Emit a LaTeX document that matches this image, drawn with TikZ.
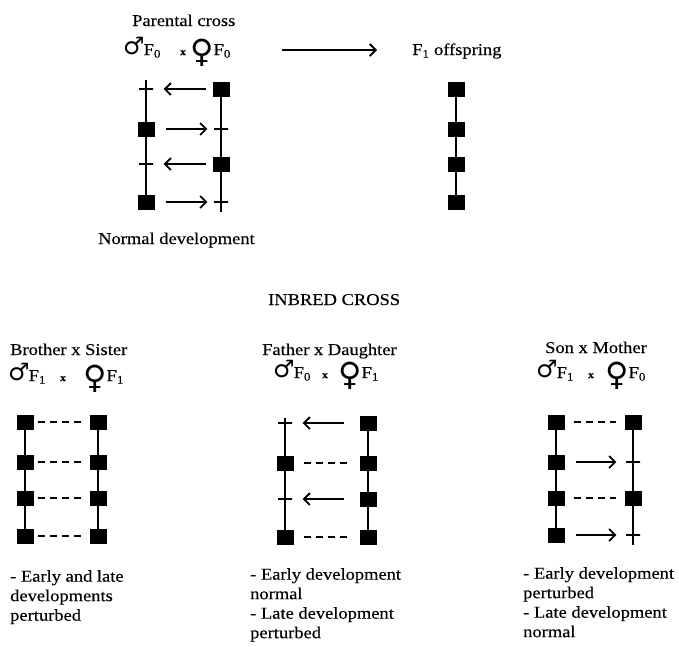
\documentclass[tikz,border=0pt]{standalone}
\usepackage{fontspec}
\setmainfont{Liberation Serif}[FakeStretch=1.12,FakeBold=0.3]
\newfontfamily\symf{DejaVu Sans}
\usetikzlibrary{arrows.meta}
\tikzset{
 sq/.style={rectangle, fill=black, minimum width=17pt, minimum height=15pt, inner sep=0pt},
 tk/.style={rectangle, draw, line width=1.4pt, minimum width=14pt, minimum height=0pt, inner sep=0pt},
 chrom/.style={line width=2.2pt},
 arr/.style={line width=1.6pt, -{Straight Barb[length=6pt,width=12pt,line width=1.8pt]}},
 dsh/.style={line width=1.6pt, dash pattern=on 7pt off 5pt},
 txt/.style={inner sep=0pt, font=\fontsize{16.5}{19.5}\selectfont},
 lbl/.style={txt, anchor=base west},
 para/.style={txt, anchor=north west, align=left},
}
\newcommand{\msym}{\raisebox{1pt}{\symf\fontsize{24}{24}\selectfont ♂}\kern-1pt}
\newcommand{\fsym}{\raisebox{-7pt}{\symf\fontsize{32}{32}\selectfont ♀}}
\newcommand{\xsym}{{\bfseries\fontsize{10}{10}\selectfont x}}
\begin{document}
\begin{tikzpicture}[x=1pt,y=-1pt]
\useasboundingbox (0,0) rectangle (679,646);

% ---------- parental cross ----------
\node[lbl] (ptitle) at (132,26) {Parental cross};
\node[lbl] (pm) at (123,55) {\msym F\textsubscript{0}};
\node[lbl] (px) at (180,55) {\xsym};
\node[lbl] (pf) at (190,55) {\fsym F\textsubscript{0}};
\node[lbl] (off) at (412,55) {F\textsubscript{1} offspring};
\coordinate (h1) at (282,50);
\coordinate (h2) at (377,50);
\draw[arr, line width=1.3pt] (h1) -- (h2);

\node[tk] (pa1) at (146,89) {};
\node[sq] (pa2) at (146,129) {};
\node[tk] (pa3) at (146,164) {};
\node[sq] (pa4) at (146,202) {};
\node[sq] (pb1) at (221,89) {};
\node[tk] (pb2) at (221,129) {};
\node[sq] (pb3) at (221,164) {};
\node[tk] (pb4) at (221,202) {};
\draw[chrom] ([yshift=9pt]pa1.center) -- (pa4.center);
\draw[chrom] (pb1.center) -- ([yshift=-10pt]pb4.center);
\draw[arr, shorten <=6pt, shorten >=10pt] (pb1) -- (pa1);
\draw[arr, shorten <=11pt, shorten >=6pt] (pa2) -- (pb2);
\draw[arr, shorten <=6pt, shorten >=10pt] (pb3) -- (pa3);
\draw[arr, shorten <=11pt, shorten >=6pt] (pa4) -- (pb4);

\node[sq] (off1) at (456,89) {};
\node[sq] (off2) at (456,129) {};
\node[sq] (off3) at (456,164) {};
\node[sq] (off4) at (456,202) {};
\draw[chrom] (off1.center) -- (off4.center);

\node[lbl] (normal) at (98,244) {Normal development};
\node[lbl] (inbred) at (268,305) {INBRED CROSS};

% ---------- brother x sister ----------
\node[lbl] (bsh) at (10,355) {Brother x Sister};
\node[lbl] (bsm) at (8,381) {\msym F\textsubscript{1}};
\node[lbl] (bsx) at (60,381) {\xsym};
\node[lbl] (bsf) at (83,381) {\fsym F\textsubscript{1}};
\foreach \i/\y in {1/422,2/462,3/498,4/536}{
  \node[sq] (la\i) at (25,\y) {};
  \node[sq] (lb\i) at (98,\y) {};
}
\draw[chrom] (la1.center) -- (la4.center);
\draw[chrom] (lb1.center) -- (lb4.center);
\foreach \i in {1,2,3,4}{
  \draw[dsh, shorten <=4pt, shorten >=4pt] (la\i) -- (lb\i);
}
\node[para] (bst) at (10,570) {- Early and late\\developments\\perturbed};

% ---------- father x daughter ----------
\node[lbl] (fdh) at (262,355) {Father x Daughter};
\node[lbl] (fdm) at (273,378) {\msym F\textsubscript{0}};
\node[lbl] (fdx) at (322,378) {\xsym};
\node[lbl] (fdf) at (338,378) {\fsym F\textsubscript{1}};
\node[tk] (ma1) at (285,423) {};
\node[sq] (ma2) at (285,463) {};
\node[tk] (ma3) at (285,499) {};
\node[sq] (ma4) at (285,537) {};
\foreach \i/\y in {1/423,2/463,3/499,4/537}{
  \node[sq] (mb\i) at (368,\y) {};
}
\draw[chrom] ([yshift=5pt]ma1.center) -- (ma4.center);
\draw[chrom] (mb1.center) -- (mb4.center);
\draw[arr, shorten <=15pt, shorten >=10pt] (mb1) -- (ma1);
\draw[dsh, shorten <=10pt, shorten >=12pt] (ma2) -- (mb2);
\draw[arr, shorten <=15pt, shorten >=10pt] (mb3) -- (ma3);
\draw[dsh, shorten <=10pt, shorten >=12pt] (ma4) -- (mb4);
\node[para] (fdt) at (250,568) {- Early development\\normal\\- Late development\\perturbed};

% ---------- son x mother ----------
\node[lbl] (smh) at (545,353) {Son x Mother};
\node[lbl] (smm) at (536,378) {\msym F\textsubscript{1}};
\node[lbl] (smx) at (588,378) {\xsym};
\node[lbl] (smf) at (605,378) {\fsym F\textsubscript{0}};
\foreach \i/\y in {1/422,2/462,3/498,4/535}{
  \node[sq] (ra\i) at (556,\y) {};
}
\node[sq] (rb1) at (633,422) {};
\node[tk] (rb2) at (633,462) {};
\node[sq] (rb3) at (633,498) {};
\node[tk] (rb4) at (633,535) {};
\draw[chrom] (ra1.center) -- (ra4.center);
\draw[chrom] (rb1.center) -- ([yshift=-10pt]rb4.center);
\draw[dsh, shorten <=9pt, shorten >=8pt] (ra1) -- (rb1);
\draw[arr, shorten <=11pt, shorten >=9pt] (ra2) -- (rb2);
\draw[dsh, shorten <=9pt, shorten >=8pt] (ra3) -- (rb3);
\draw[arr, shorten <=11pt, shorten >=9pt] (ra4) -- (rb4);
\node[para] (smt) at (523,567) {- Early development\\perturbed\\- Late development\\normal};
\end{tikzpicture}
\end{document}
